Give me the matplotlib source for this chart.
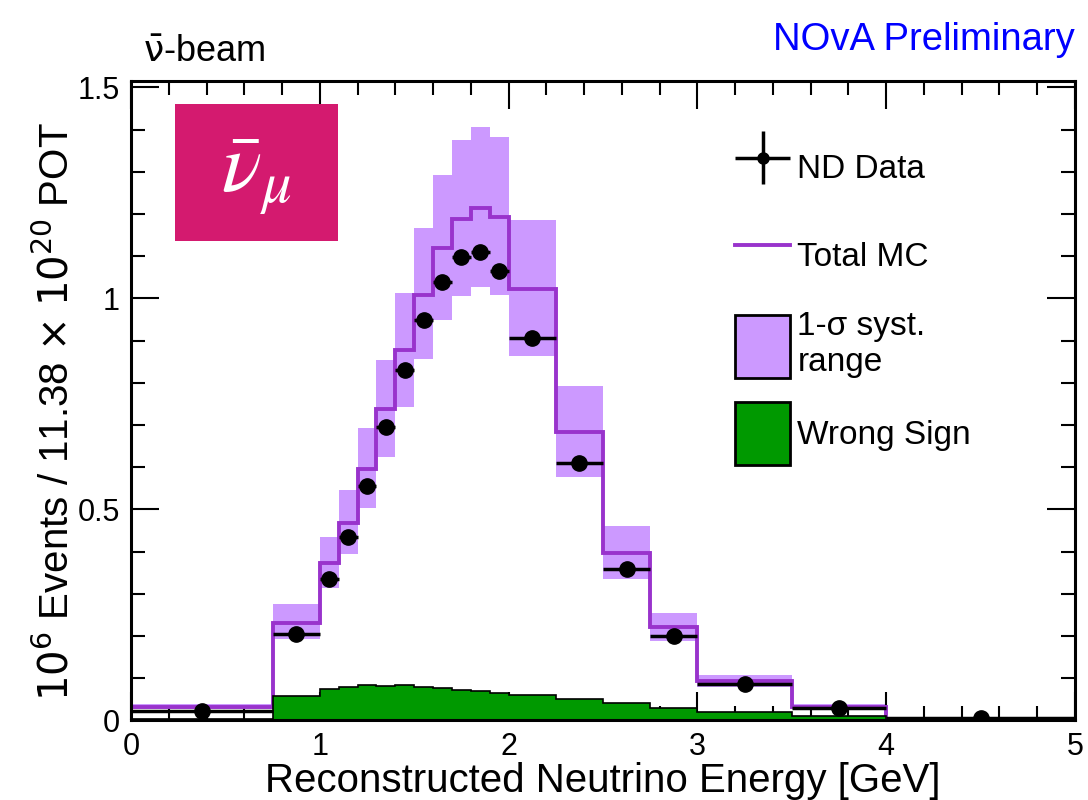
import numpy as np
import matplotlib.pyplot as plt
from matplotlib.patches import Patch, Rectangle
from matplotlib.lines import Line2D
from matplotlib.legend_handler import HandlerErrorbar
from matplotlib.ticker import MultipleLocator, FormatStrFormatter

plt.rcParams['font.family'] = ['Liberation Sans', 'DejaVu Sans']

# Bin edges (GeV)
edges = [0, 0.75, 1.0, 1.1, 1.2, 1.3, 1.4, 1.5, 1.6, 1.7, 1.8, 1.9, 2.0,
         2.25, 2.5, 2.75, 3.0, 3.5, 4.0, 5.0]

# ND data (10^6 events)
data = [0.023, 0.205, 0.335, 0.435, 0.555, 0.695, 0.831, 0.950, 1.038,
        1.098, 1.111, 1.065, 0.906, 0.611, 0.359, 0.200, 0.087, 0.030, 0.006]
data_err = [0.002, 0.003, 0.004, 0.004, 0.005, 0.005, 0.006, 0.006, 0.006,
            0.007, 0.007, 0.006, 0.005, 0.004, 0.003, 0.003, 0.002, 0.001, 0.001]

# Total MC
mc = [0.033, 0.231, 0.372, 0.467, 0.597, 0.737, 0.877, 1.009, 1.119,
      1.189, 1.215, 1.194, 1.023, 0.684, 0.397, 0.222, 0.094, 0.033, 0.004]

# 1-sigma systematic band
syst_lo = [0.027, 0.193, 0.313, 0.394, 0.504, 0.624, 0.743, 0.856, 0.948,
           1.005, 1.027, 1.007, 0.863, 0.577, 0.335, 0.188, 0.080, 0.028, 0.002]
syst_hi = [0.040, 0.276, 0.435, 0.546, 0.693, 0.853, 1.013, 1.167, 1.293,
           1.376, 1.407, 1.382, 1.185, 0.792, 0.460, 0.255, 0.108, 0.038, 0.006]

# Wrong sign component
wrong_sign = [0.004, 0.058, 0.075, 0.080, 0.085, 0.082, 0.083, 0.079, 0.077,
              0.072, 0.070, 0.066, 0.061, 0.050, 0.041, 0.030, 0.021, 0.011, 0.002]

purple = '#9933CC'
band_col = '#CC99FF'
green = '#009900'

fig = plt.figure(figsize=(10.88, 8), dpi=100)
ax = fig.add_axes([0.1204, 0.0994, 0.8676, 0.7993])

edges_a = np.array(edges)
centers = 0.5 * (edges_a[1:] + edges_a[:-1])
half_w = 0.5 * (edges_a[1:] - edges_a[:-1])

ax.stairs(syst_hi, edges, baseline=syst_lo, fill=True, color=band_col,
          lw=0, zorder=1)
ax.stairs(mc, edges, color=purple, lw=2.8, zorder=2)
ax.stairs(wrong_sign, edges, fill=True, color=green, lw=0, zorder=3)
ax.stairs(wrong_sign, edges, color='black', lw=1.2, zorder=3.5)
ax.errorbar(centers, data, xerr=half_w, yerr=data_err, fmt='o', color='black',
            ms=11, elinewidth=2.5, capsize=0, zorder=4)

ax.set_xlim(0, 5)
ax.set_ylim(0, 1.515)
ax.xaxis.set_major_locator(MultipleLocator(1))
ax.xaxis.set_minor_locator(MultipleLocator(0.2))
ax.yaxis.set_major_locator(MultipleLocator(0.5))
ax.yaxis.set_minor_locator(MultipleLocator(0.1))
ax.yaxis.set_major_formatter(FormatStrFormatter('%g'))
ax.tick_params(which='both', direction='in', top=True, right=True,
               labelsize=22, width=1.5)
ax.tick_params(which='major', length=20, pad=8)
ax.tick_params(which='minor', length=10)
for s in ax.spines.values():
    s.set_linewidth(2.2)
    s.set_zorder(5)

ax.set_xlabel('Reconstructed Neutrino Energy [GeV]', fontsize=29, labelpad=0)
ax.set_ylabel(r'$10^{6}$ Events / 11.38 $\times$ $10^{20}$ POT', fontsize=29)
ax.yaxis.set_label_coords(-0.058, 0.483)

# flavour box
ax.add_patch(Rectangle((0.0466, 0.75), 0.1724, 0.2136, transform=ax.transAxes,
                       facecolor='#D41A6F', edgecolor='none', zorder=6))
ax.text(0.133, 0.85, r'$\bar{\nu}_{\mu}$', transform=ax.transAxes,
        color='white', fontsize=60, ha='center', va='center',
        math_fontfamily='stix', zorder=7)

fig.text(0.131, 0.922, r'$\mathrm{\bar{\nu}}$-beam', fontsize=26,
         math_fontfamily='dejavusans', ha='left', va='baseline')
fig.text(0.988, 0.938, 'NOvA Preliminary', fontsize=27.5, color='#0000FF',
         ha='right', va='baseline')

handles = [
    ax.errorbar([], [], xerr=[], yerr=[], fmt='o', color='black', ms=8,
                elinewidth=2.5, capsize=0),
    Line2D([], [], color=purple, lw=2.8),
    Patch(facecolor=band_col, edgecolor='black', lw=2),
    Patch(facecolor=green, edgecolor='black', lw=2),
]
labels = ['ND Data', 'Total MC', '1-\u03c3 syst.\nrange', 'Wrong Sign']
ax.legend(handles, labels, loc='upper left', bbox_to_anchor=(0.64, 0.913),
          frameon=False, fontsize=24, handlelength=1.65, handleheight=2.54,
          handletextpad=0.22, labelspacing=0.72, borderpad=0, borderaxespad=0,
          handler_map={type(handles[0]): HandlerErrorbar(xerr_size=0.83,
                                                         yerr_size=0.8)})

fig.savefig('out.png', dpi=100)
